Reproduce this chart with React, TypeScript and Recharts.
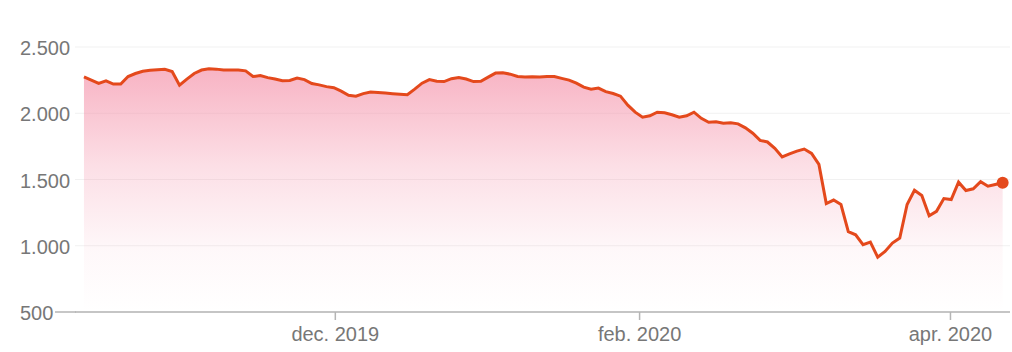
import { Area, AreaChart, CartesianGrid, XAxis, YAxis } from "recharts";

// Daglige lukkekurser (handelsdage), okt. 2019 – apr. 2020
const values = [
  2275, 2250, 2225, 2245, 2220, 2220, 2277, 2300, 2317, 2324, 2329, 2332, 2315, 2212, 2258, 2300, 2326, 2335, 2333, 2326, 2326,
  2326, 2320, 2277, 2284, 2269, 2258, 2245, 2247, 2265, 2254, 2224, 2214, 2201, 2193, 2167, 2136, 2129, 2148, 2161, 2157, 2152,
  2148, 2144, 2140, 2182, 2227, 2254, 2242, 2239, 2261, 2269, 2258, 2239, 2242, 2273, 2303, 2305, 2295, 2277, 2273, 2275, 2274,
  2278, 2277, 2263, 2250, 2227, 2197, 2182, 2190, 2163, 2149, 2129, 2061, 2008, 1970, 1981, 2008, 2003, 1989, 1970, 1981, 2008,
  1962, 1932, 1936, 1924, 1928, 1920, 1890, 1849, 1795, 1783, 1735, 1670, 1693, 1714, 1730, 1697, 1614, 1318, 1345, 1311, 1106,
  1083, 1008, 1028, 914, 957, 1020, 1058, 1311, 1419, 1379, 1227, 1260, 1356, 1349, 1480, 1417, 1430, 1483, 1449, 1462, 1475,
];

// månedsmarkeringer (position i handelsdage) og deres tekst
const monthTicks = [34.2, 75.6, 117.9];
const monthLabels = ["dec. 2019", "feb. 2020", "apr. 2020"];

const yTicks = [500, 1000, 1500, 2000, 2500];

const data = values.map((v, i) => ({ i, v }));

const LINE = "#e4491c";
const TEXT = "#777777";
const AXIS = "#b5b5b5";

const fmt = (n: number) => String(n).replace(/\B(?=(\d{3})+(?!\d))/g, ".");

const YTick = (props: any) => {
  const { y, payload } = props;
  return (
    <g>
      <text x={20} y={y + 8} fill={TEXT} fontSize={20} textAnchor="start">
        {fmt(payload.value)}
      </text>
      {payload.value === 500 && <line x1={55} x2={76} y1={y} y2={y} stroke={AXIS} strokeWidth={1.5} />}
    </g>
  );
};

const LastDot = (props: any) => {
  const { cx, cy, index } = props;
  if (index !== values.length - 1) return <g key={index} />;
  return <circle key={index} cx={cx} cy={cy} r={6} fill={LINE} />;
};

export default function App() {
  return (
    <div style={{ position: "fixed", left: 0, top: 0, width: 1012, height: 352, background: "#fff" }}>
      <AreaChart
        width={1012}
        height={352}
        data={data}
        margin={{ top: 47, right: 2, bottom: 0, left: 0 }}
        style={{ fontFamily: "Liberation Sans, Arial, sans-serif" }}
      >
        <defs>
          <linearGradient id="fillPink" x1="0" y1="0" x2="0" y2="1">
            <stop offset="0%" stopColor="#f48ca5" stopOpacity={0.66} />
            <stop offset="40%" stopColor="#f48ca5" stopOpacity={0.28} />
            <stop offset="75%" stopColor="#f48ca5" stopOpacity={0.06} />
            <stop offset="100%" stopColor="#f48ca5" stopOpacity={0} />
          </linearGradient>
        </defs>
        <CartesianGrid horizontal vertical={false} stroke="#f1f1f1" strokeWidth={1} />
        <XAxis
          dataKey="i"
          type="number"
          domain={[-1.22, 126]}
          allowDataOverflow
          ticks={monthTicks}
          tickFormatter={(t: number) => monthLabels[monthTicks.indexOf(t)] ?? ""}
          axisLine={{ stroke: AXIS, strokeWidth: 1.5 }}
          tickLine={{ stroke: AXIS, strokeWidth: 1.5 }}
          tickSize={8}
          tickMargin={7}
          tick={{ fill: TEXT, fontSize: 20 }}
          height={40}
          interval={0}
        />
        <YAxis
          type="number"
          domain={[500, 2500]}
          ticks={yTicks}
          allowDataOverflow
          axisLine={false}
          tickLine={false}
          tick={<YTick />}
          width={75}
        />
        <Area
          type="linear"
          dataKey="v"
          baseValue={500}
          stroke={LINE}
          strokeWidth={3}
          fill="url(#fillPink)"
          fillOpacity={1}
          dot={<LastDot />}
          activeDot={false}
          isAnimationActive={false}
        />
      </AreaChart>
    </div>
  );
}
